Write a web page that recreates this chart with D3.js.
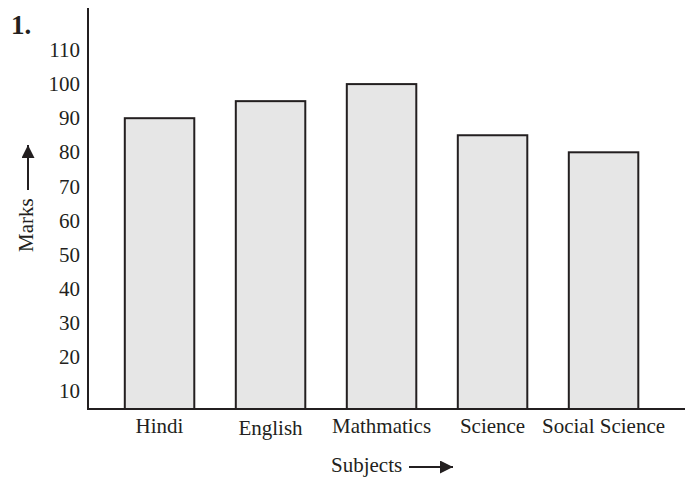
<!DOCTYPE html>
<html lang="en">
<head>
    <meta charset="utf-8" />
    <style>
        body {margin:0; background:#fff;}
        text {font-family: "Liberation Serif", "DejaVu Serif", serif; fill:#231f20;}
    </style>
    <script src="https://cdn.jsdelivr.net/npm/d3@7"></script>
</head>
<body>
    <svg></svg>
</body>
<script>
    var width = 685,
        height = 478;

    var subjects = ["Hindi", "English", "Mathmatics", "Science", "Social Science"];
    var marks = [90, 95, 100, 85, 80];
    var tickValues = [10, 20, 30, 40, 50, 60, 70, 80, 90, 100, 110];

    var axisY = 409, axisX = 88;
    var ink = "#231f20";

    var svg = d3.select("svg")
        .attr("width", width)
        .attr("height", height);

    var y = d3.scaleLinear().domain([10, 110]).range([391, 50]);
    var x = d3.scaleBand().domain(subjects).range([91.5, 671.6]).paddingInner(0.374).paddingOuter(0.3);

    svg.append("defs").append("marker")
        .attr("id", "head")
        .attr("viewBox", "0 0 10 10")
        .attr("refX", 10).attr("refY", 5)
        .attr("markerWidth", 6.5).attr("markerHeight", 6.5)
        .attr("markerUnits", "strokeWidth")
        .attr("orient", "auto")
      .append("path")
        .attr("d", "M0,0 L10,5 L0,10 z")
        .attr("fill", ink);

    // bars
    svg.append("g").selectAll("rect")
        .data(marks)
      .enter().append("rect")
        .attr("x", function(d, i) {return x(subjects[i])})
        .attr("width", x.bandwidth())
        .attr("y", function(d) {return y(d)})
        .attr("height", function(d) {return axisY - y(d)})
        .attr("fill", "#e6e6e6")
        .attr("stroke", ink)
        .attr("stroke-width", 2);

    // axes lines
    svg.append("line")
        .attr("x1", axisX).attr("x2", axisX)
        .attr("y1", 8).attr("y2", axisY + 1)
        .attr("stroke", ink).attr("stroke-width", 2);
    svg.append("line")
        .attr("x1", axisX - 1).attr("x2", width)
        .attr("y1", axisY).attr("y2", axisY)
        .attr("stroke", ink).attr("stroke-width", 2);

    // y tick labels
    svg.append("g").selectAll("text")
        .data(tickValues)
      .enter().append("text")
        .attr("x", 80)
        .attr("y", function(d) {return y(d)})
        .attr("dy", "0.34em")
        .attr("text-anchor", "end")
        .style("font-size", "21px")
        .text(function(d) {return d});

    // x labels
    svg.append("g").selectAll("text")
        .data(subjects)
      .enter().append("text")
        .attr("x", function(d) {return x(d) + x.bandwidth() / 2})
        .attr("y", function(d) {return d == "English" ? 435 : 433})
        .attr("text-anchor", "middle")
        .style("font-size", "21px")
        .text(function(d) {return d});

    // axis titles
    svg.append("text")
        .attr("x", 331).attr("y", 472)
        .style("font-size", "21px")
        .text("Subjects");
    svg.append("line")
        .attr("x1", 409).attr("x2", 453)
        .attr("y1", 467).attr("y2", 467)
        .attr("stroke", ink).attr("stroke-width", 2)
        .attr("marker-end", "url(#head)");

    svg.append("text")
        .attr("transform", "translate(33,252) rotate(-90)")
        .style("font-size", "21px")
        .text("Marks");
    svg.append("line")
        .attr("x1", 28).attr("x2", 28)
        .attr("y1", 190).attr("y2", 145)
        .attr("stroke", ink).attr("stroke-width", 2)
        .attr("marker-end", "url(#head)");

    svg.append("text")
        .attr("x", 11).attr("y", 34)
        .style("font-size", "27px")
        .style("font-weight", "bold")
        .text("1.");
</script>
</html>
